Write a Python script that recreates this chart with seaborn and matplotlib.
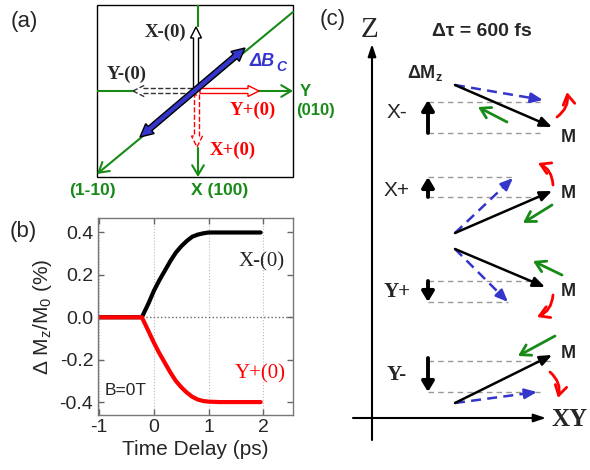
import numpy as np
import pandas as pd
import matplotlib
matplotlib.use('Agg')
import matplotlib.pyplot as plt
import seaborn as sns
from matplotlib.patches import FancyArrow, Polygon, Rectangle

# data for panel (b)
delay = [-1.0, -0.8, -0.6, -0.4, -0.22, -0.1, 0.0, 0.1, 0.2, 0.3, 0.4, 0.5,
         0.6, 0.7, 0.8, 0.9, 1.0, 1.2, 1.5, 1.95]
x_minus = [0, 0, 0, 0, 0, 0.065, 0.125, 0.175, 0.22, 0.265, 0.305, 0.335,
           0.36, 0.38, 0.39, 0.396, 0.40, 0.40, 0.40, 0.40]
y_plus = [0, 0, 0, 0, 0, -0.065, -0.12, -0.17, -0.215, -0.26, -0.30, -0.33,
          -0.355, -0.375, -0.388, -0.395, -0.398, -0.40, -0.40, -0.40]
xticks = [-1, 0, 1, 2]
yticks = [-0.4, -0.2, 0.0, 0.2, 0.4]
ytick_labels = ['-0.4', '-0.2', '0.0', '0.2', '0.4']

sns.set_style('ticks')
plt.rcParams['font.family'] = ['Liberation Sans', 'DejaVu Sans']
plt.rcParams['mathtext.fontset'] = 'custom'
plt.rcParams['mathtext.rm'] = 'Liberation Sans'
plt.rcParams['mathtext.bf'] = 'Liberation Sans:bold'
plt.rcParams['axes.unicode_minus'] = False

SERIF = ['Liberation Serif', 'DejaVu Serif']
GREEN = '#178a17'
BLUE = '#3535cc'

fig = plt.figure(figsize=(5.9, 4.7), dpi=100)

# overlay in pixel coordinates for the schematics
ov = fig.add_axes([0, 0, 1, 1])
ov.set_xlim(0, 590)
ov.set_ylim(470, 0)
ov.axis('off')


def seg(p0, p1, color, lw=1.5, ls='-', z=2):
    ov.plot([p0[0], p1[0]], [p0[1], p1[1]], color=color, lw=lw, ls=ls,
            solid_capstyle='butt', zorder=z)


def arr(p0, p1, color, lw=1.5, style='-|>', ms=12, rad=0.0, z=3):
    ov.annotate('', xy=p1, xytext=p0,
                arrowprops=dict(arrowstyle=style, color=color, lw=lw,
                                mutation_scale=ms, shrinkA=0, shrinkB=0,
                                connectionstyle=f'arc3,rad={rad}'),
                zorder=z)


def dash_arr(p0, p1, color, lw=1.8):
    p0 = np.array(p0, float)
    p1 = np.array(p1, float)
    seg(p0, p1 - 0.08 * (p1 - p0), color, lw=lw, ls=(0, (4, 2.5)))
    arr(p1 - 0.1 * (p1 - p0), p1, color, lw=lw,
        style='-|>,head_length=0.6,head_width=0.25', ms=12)


def hollow(x, y, dx, dy, ec, ls='-'):
    ov.add_patch(FancyArrow(x, y, dx, dy, width=5, head_width=11, head_length=11,
                            length_includes_head=True, fc='white', ec=ec, lw=1,
                            ls=ls, zorder=4))


def double_arrow(a, b, w=2.8, h=6.5, L=13):
    a = np.array(a, float)
    b = np.array(b, float)
    u = (b - a) / np.linalg.norm(b - a)
    n = np.array([-u[1], u[0]])
    pts = [a, a + L * u + h * n, a + L * u + w * n, b - L * u + w * n,
           b - L * u + h * n, b, b - L * u - h * n, b - L * u - w * n,
           a + L * u - w * n, a + L * u - h * n]
    ov.add_patch(Polygon(pts, closed=True, fc=BLUE, ec='black', lw=1, zorder=5))


# ---------------- panel (a)
ov.text(24, 21, '(a)', fontsize=16, ha='center', va='center')
ov.add_patch(Rectangle((97, 5), 196, 172, fill=False, ec='black', lw=1, zorder=2))
seg((97, 91), (133, 91), GREEN)
arr((200, 91), (293, 91), GREEN, style='->,head_length=0.5,head_width=0.3', ms=14)
seg((198, 5), (198, 27), GREEN)
arr((198, 148), (198, 177), GREEN, style='->,head_length=0.5,head_width=0.3', ms=14)
arr((293, 12), (97, 174), GREEN, style='->,head_length=0.5,head_width=0.3', ms=14)

hollow(196, 88, 0, -61, 'black')
hollow(200, 91, 59, 0, 'red')
hollow(197, 95, 0, 52, 'red', ls='--')
hollow(195, 91, -62, 0, '#333333', ls='--')
double_arrow((140, 137), (245, 48))

ov.text(165, 32, 'X-(0)', family=SERIF, weight='bold', fontsize=13.5, ha='center', va='center')
ov.text(127, 74, 'Y-(0)', family=SERIF, weight='bold', fontsize=13.5, ha='center', va='center')
ov.text(253, 110, 'Y+(0)', family=SERIF, weight='bold', fontsize=13.5, color='red', ha='center', va='center')
ov.text(233, 150, 'X+(0)', family=SERIF, weight='bold', fontsize=13.5, color='red', ha='center', va='center')
ov.text(250, 61, 'ΔB', color=BLUE, weight='bold', style='italic', fontsize=13, ha='left', va='center')
ov.text(276, 67, 'C', color=BLUE, weight='bold', style='italic', fontsize=10, ha='left', va='center')
ov.text(300, 91, 'Y', color=GREEN, weight='bold', fontsize=12, ha='left', va='center')
ov.text(296, 111, '(010)', color=GREEN, weight='bold', fontsize=12, ha='left', va='center')
ov.text(92, 190, '(1-10)', color=GREEN, weight='bold', fontsize=12.5, ha='center', va='center')
ov.text(220, 190, 'X (100)', color=GREEN, weight='bold', fontsize=12.5, ha='center', va='center')

# ---------------- panel (c)
ov.text(333, 20, '(c)', fontsize=16, ha='center', va='center')
ov.text(370, 30, 'Z', family=SERIF, fontsize=21, ha='center', va='center')
ov.text(482, 31, 'Δτ = 600 fs', weight='bold', fontsize=14, ha='center', va='center')
ov.text(425, 73, r'ΔM$_\mathbf{z}$', weight='bold', fontsize=13, ha='center', va='center')
arr((372, 440), (372, 44), 'black', lw=1.5, style='-|>,head_length=0.6,head_width=0.2', ms=12)
arr((353, 418), (546, 418), 'black', lw=1.5, style='-|>,head_length=0.6,head_width=0.2', ms=12)
ov.text(551, 419, 'XY', family=SERIF, weight='bold', fontsize=18, ha='left', va='center')

blocks = [
    dict(label='X-', lab_xy=(397, 113), serif=False, dz=(133, 100), grey=[(102, 540), (133, 540)],
         m0=(455, 85), m1=(552, 127), mxy=(568, 138), b1=(543, 100),
         g=((507, 122), (478, 107)), r=((557, 117), (567, 92)), rad=0.3),
    dict(label='X+', lab_xy=(397, 190), serif=False, dz=(197, 177), grey=[(177, 515), (197, 540)],
         m0=(455, 233), m1=(552, 191), mxy=(568, 193), b1=(513, 178),
         g=((552, 205), (523, 223)), r=((553, 185), (538, 163)), rad=0.3),
    dict(label='Y+', lab_xy=(397, 292), serif=True, dz=(281, 302), grey=[(281, 530), (302, 508)],
         m0=(455, 249), m1=(545, 287), mxy=(568, 292), b1=(508, 302),
         g=((562, 275), (533, 261)), r=((553, 295), (537, 317)), rad=-0.3),
    dict(label='Y-', lab_xy=(397, 375), serif=True, dz=(358, 392), grey=[(361, 552), (392, 540)],
         m0=(455, 403), m1=(552, 355), mxy=(568, 354), b1=(537, 392),
         g=((555, 336), (518, 356)), r=((550, 372), (558, 398)), rad=-0.3),
]

for b in blocks:
    if b['serif']:
        ov.text(*b['lab_xy'], b['label'], family=SERIF, weight='bold', fontsize=15, ha='center', va='center')
    else:
        ov.text(*b['lab_xy'], b['label'], fontsize=15, ha='center', va='center')
    for gy, gx in b['grey']:
        seg((428, gy), (gx, gy), '#999999', lw=1, ls=(0, (4, 3)), z=1)
    arr((428, b['dz'][0]), (428, b['dz'][1]), 'black', lw=2.8,
        style='-|>,head_length=0.5,head_width=0.3', ms=12)
    arr(b['m0'], b['m1'], 'black', lw=1.8, style='-|>,head_length=0.6,head_width=0.25', ms=12)
    ov.text(*b['mxy'], 'M', weight='bold', fontsize=13, ha='center', va='center')
    dash_arr(b['m0'], b['b1'], BLUE)
    arr(b['g'][0], b['g'][1], GREEN, lw=2, style='->,head_length=0.5,head_width=0.3', ms=14)
    arr(b['r'][0], b['r'][1], 'red', lw=2, style='->,head_length=0.5,head_width=0.3', ms=14, rad=b['rad'])

# ---------------- panel (b)
axb = fig.add_axes([97.5 / 590, 55 / 470, 195.5 / 590, 196.5 / 470])
axb.patch.set_alpha(0)
for x in xticks:
    axb.axvline(x, color='#bbbbbb', lw=0.8, ls=':', zorder=0)
axb.axhline(0, color='#666666', lw=1, ls=':', zorder=0)
sns.lineplot(x=delay, y=x_minus, color='black', lw=3, ax=axb)
sns.lineplot(x=delay, y=y_plus, color='red', lw=3, ax=axb)
axb.set_xlim(-1.03, 2.54)
axb.set_ylim(-0.461, 0.466)
axb.set_xticks(xticks)
axb.set_xticklabels([str(v) for v in xticks])
axb.set_yticks(yticks)
axb.set_yticklabels(ytick_labels)
axb.tick_params(direction='in', length=4, width=1, color='#666666', labelsize=14, pad=3,
                top=True, right=True)
for s in axb.spines.values():
    s.set_color('#777777')
    s.set_linewidth(1)
axb.set_xlabel('Time Delay (ps)', fontsize=15, labelpad=3)
axb.set_ylabel(r'Δ M$_\mathrm{z}$/M$_\mathrm{0}$ (%)', fontsize=15, labelpad=4)
axb.text(1.96, 0.26, 'X-(0)', family=SERIF, fontsize=15, ha='center', va='center')
axb.text(1.95, -0.267, 'Y+(0)', family=SERIF, fontsize=15, color='red', ha='center', va='center')
axb.text(-0.52, -0.345, 'B=0T', fontsize=12.5, ha='center', va='center')
ov.text(23, 231, '(b)', fontsize=16, ha='center', va='center')

fig.savefig('out.png', dpi=100)
